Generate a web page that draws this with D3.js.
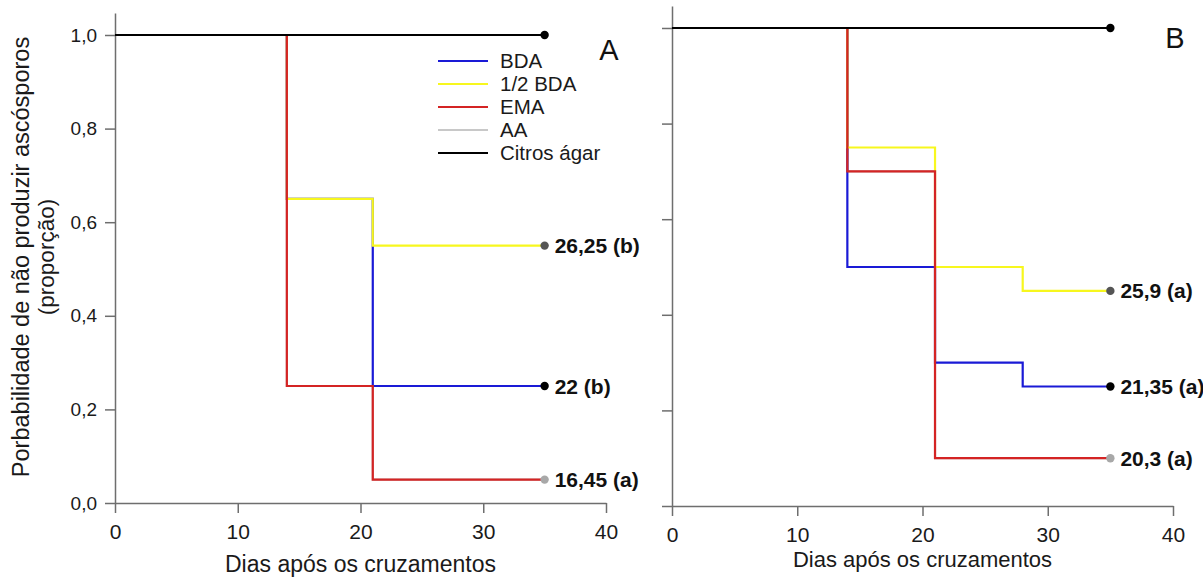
<!DOCTYPE html>
<html>
<head>
<meta charset="utf-8">
<script src="https://cdn.jsdelivr.net/npm/d3@7"></script>
<style>
  html, body { margin: 0; padding: 0; background: #fff; }
  svg { display: block; font-family: "Liberation Sans", Arial, sans-serif; }
</style>
</head>
<body>
<div id="chart"></div>
<script>
// ---------- DATA ----------
const seriesNames = ["AA", "BDA", "1/2 BDA", "EMA", "Citros ágar"];   // drawing order
const legendNames = ["BDA", "1/2 BDA", "EMA", "AA", "Citros ágar"];
const xTicks = [0, 10, 20, 30, 40];
const yTicks = [0, 0.2, 0.4, 0.6, 0.8, 1.0];
const yTickLabels = ["0,0", "0,2", "0,4", "0,6", "0,8", "1,0"];

// Panel A (days of change, probability after each change)
const daysA = [0, 14, 21, 35];
const A_BDA = [1, 0.65, 0.25, 0.25];
const A_halfBDA = [1, 0.65, 0.55, 0.55];
const A_EMA = [1, 0.25, 0.05, 0.05];
const A_AA = [1, 0.25, 0.05, 0.05];
const A_Citros = [1, 1, 1, 1];
const A_endValues = [1.0, 0.55, 0.25, 0.05];
const A_endLabels = ["", "26,25 (b)", "22 (b)", "16,45 (a)"];

// Panel B
const daysB = [0, 14, 21, 28, 35];
const B_BDA = [1, 0.50, 0.30, 0.25, 0.25];
const B_halfBDA = [1, 0.75, 0.50, 0.45, 0.45];
const B_EMA = [1, 0.70, 0.10, 0.10, 0.10];
const B_AA = [1, 0.70, 0.10, 0.10, 0.10];
const B_Citros = [1, 1, 1, 1, 1];
const B_endValues = [1.0, 0.45, 0.25, 0.10];
const B_endLabels = ["", "25,9 (a)", "21,35 (a)", "20,3 (a)"];

const endDay = 35;

// ---------- STYLE ----------
const colors = { "BDA": "#1a1ad6", "1/2 BDA": "#f7f71e", "EMA": "#d42424", "AA": "#c8c8c8", "Citros ágar": "#000000" };
const lineWidth = 2.2;
const dotColors = ["#000000", "#555555", "#000000", "#a8a8a8"];
const axisColor = "#6e6e6e";

const svg = d3.select("#chart").append("svg").attr("width", 1203).attr("height", 583);

function drawPanel(cfg) {
  const x = d3.scaleLinear().domain([0, 40]).range([cfg.left, cfg.right]);
  const y = d3.scaleLinear().domain([0, cfg.yMax]).range([cfg.bottom, cfg.top]);
  const g = svg.append("g");

  // axes
  const xa = g.append("g").attr("transform", `translate(0,${cfg.bottom})`)
    .call(d3.axisBottom(x).tickValues(xTicks).tickSize(10).tickPadding(11).tickSizeOuter(0).tickFormat(d3.format("d")));
  const ya = g.append("g").attr("transform", `translate(${cfg.left},0)`)
    .call(d3.axisLeft(y).tickValues(yTicks).tickSize(10).tickPadding(8).tickSizeOuter(0)
      .tickFormat(cfg.yLabels ? ((d, i) => yTickLabels[i]) : () => ""));
  [xa, ya].forEach(a => {
    a.select(".domain").attr("stroke", axisColor).attr("stroke-width", 1.5);
    a.selectAll(".tick line").attr("stroke", axisColor).attr("stroke-width", 1.5);
    a.selectAll(".tick text").attr("fill", "#1a1a1a").attr("font-family", "Liberation Sans, Arial, sans-serif");
  });
  xa.selectAll(".tick text").attr("font-size", 21);
  ya.selectAll(".tick text").attr("font-size", 19);

  // x title
  g.append("text").attr("x", (cfg.left + cfg.right) / 2).attr("y", cfg.xTitleY)
    .attr("text-anchor", "middle").attr("font-size", cfg.xTitleSize).attr("fill", "#1a1a1a")
    .text("Dias após os cruzamentos");

  // step lines
  const line = d3.line().x(d => x(d[0])).y(d => y(d[1])).curve(d3.curveStepAfter);
  seriesNames.forEach(name => {
    const vals = cfg.series[name];
    const pts = cfg.days.map((d, i) => [d, vals[i]]);
    g.append("path").attr("d", line(pts)).attr("fill", "none")
      .attr("stroke", colors[name]).attr("stroke-width", lineWidth);
  });

  // end dots and labels
  cfg.endValues.forEach((v, i) => {
    g.append("circle").attr("cx", x(endDay)).attr("cy", y(v)).attr("r", 4.2).attr("fill", dotColors[i]);
    if (cfg.endLabels[i]) {
      g.append("text").attr("x", x(endDay) + 10).attr("y", y(v)).attr("dy", "0.36em")
        .attr("font-size", 21).attr("font-weight", "bold").attr("fill", "#111")
        .text(cfg.endLabels[i]);
    }
  });

  // panel letter
  g.append("text").attr("x", cfg.letterX).attr("y", cfg.letterY).attr("text-anchor", "middle")
    .attr("font-size", 29).attr("fill", "#111").text(cfg.letter);
  return g;
}

drawPanel({
  left: 115, right: 606, bottom: 503, top: 13, yMax: 1.047, yLabels: true, xTitleY: 572, xTitleSize: 23,
  days: daysA,
  series: { "BDA": A_BDA, "1/2 BDA": A_halfBDA, "EMA": A_EMA, "AA": A_AA, "Citros ágar": A_Citros },
  endValues: A_endValues, endLabels: A_endLabels, letter: "A", letterX: 609, letterY: 60
});
drawPanel({
  left: 672, right: 1173, bottom: 506, top: 6, yMax: 1.046, yLabels: false, xTitleY: 567, xTitleSize: 22,
  days: daysB,
  series: { "BDA": B_BDA, "1/2 BDA": B_halfBDA, "EMA": B_EMA, "AA": B_AA, "Citros ágar": B_Citros },
  endValues: B_endValues, endLabels: B_endLabels, letter: "B", letterX: 1175, letterY: 48
});

// y title (panel A)
const yTitle = svg.append("g").attr("fill", "#1a1a1a").attr("font-size", 23.5).attr("text-anchor", "middle");
yTitle.append("text").attr("transform", "translate(29,257) rotate(-90)")
  .text("Porbabilidade de não produzir ascósporos");
yTitle.append("text").attr("transform", "translate(54,257) rotate(-90)")
  .attr("font-size", 22.5)
  .text("(proporção)");

// legend (in panel A)
const leg = svg.append("g");
legendNames.forEach((name, i) => {
  const yy = 61 + i * 23;
  leg.append("line").attr("x1", 438).attr("x2", 488).attr("y1", yy).attr("y2", yy)
    .attr("stroke", colors[name]).attr("stroke-width", 2);
  leg.append("text").attr("x", 500).attr("y", yy).attr("dy", "0.36em")
    .attr("font-size", 20.5).attr("fill", "#1a1a1a").text(name);
});
</script>
</body>
</html>
